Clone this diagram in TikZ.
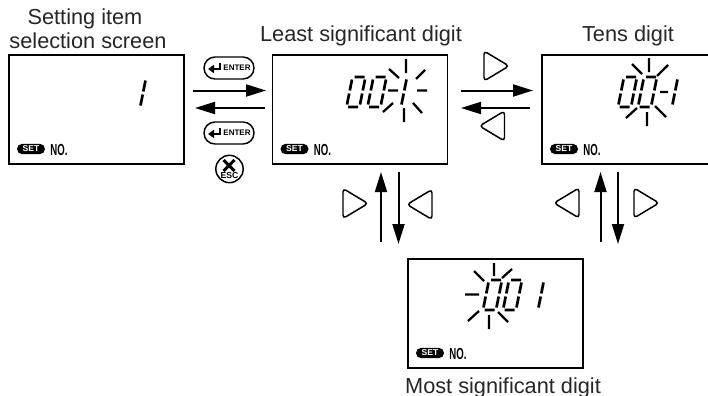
\documentclass[tikz,border=0pt]{standalone}
\usepackage{fontspec}
\setmainfont{Liberation Sans}
\usetikzlibrary{arrows.meta, shapes.misc}

\tikzset{
	x=0.75pt, y=-0.75pt,
	lcd/.style={draw, line width=1.3pt, minimum width=131.25pt, minimum height=81.75pt, inner sep=0pt, outer sep=0pt},
	caption/.style={anchor=base, inner sep=0pt, text=black!85, font=\fontsize{16.3}{18}\selectfont},
	flow/.style={line width=1.5pt, -{Triangle[length=15pt,width=9pt]}},
	softkey/.style={line width=1.1pt, rounded corners=2.6pt},
	segment/.style={line width=2pt},
	burst/.style={line width=1.7pt},
	pics/zero/.style={code={
		\draw[segment, xslant=.2] (2,0) -- (12,0) (13,2.5) -- (13,13.5) (13,16.5) -- (13,27.5) (1.5,30) -- (11.5,30) (0,16.5) -- (0,27.5) (0,2.5) -- (0,13.5);
	}},
	pics/one/.style={code={
		\draw[segment, xslant=.2] (13,2.5) -- (13,13.5) (13,16.5) -- (13,27.5);
	}},
	pics/setno/.style={code={
		\node[fill=black, text=white, rounded rectangle, inner sep=0pt, minimum width=21pt, minimum height=7.8pt, font=\fontsize{6.4}{7}\bfseries\selectfont] (-set) at (22,-15) {SET};
		\node[inner sep=0pt, xscale=.6, transform shape, font=\fontsize{12}{13}\bfseries\selectfont] (-no) at (50,-14) {NO.};
	}},
	pics/enterkey/.style={code={
		\node[draw, line width=1.1pt, rounded rectangle, inner sep=0pt, minimum width=37.5pt, minimum height=16.5pt] (-key) at (0,0) {};
		\node[inner sep=0pt, font=\fontsize{6}{7}\bfseries\selectfont] (-txt) at (8,0) {ENTER};
		\draw[line width=1.5pt, -{Triangle[length=4.5pt,width=6pt]}] (-9,-5) -- (-9,1) -- (-21,1);
	}},
	pics/rightkey/.style={code={
		\draw[softkey] (-11,-15) -- (14,0) -- (-11,15) -- cycle;
	}},
	pics/leftkey/.style={code={
		\draw[softkey] (11,-15) -- (-14,0) -- (11,15) -- cycle;
	}},
}

\begin{document}
\begin{tikzpicture}
			\path[use as bounding box, clip] (0,0) rectangle (708,396);

			% Pantallas
			\node[lcd] (box1) at (96.5,109.5) {};
			\node[lcd] (box2) at (360,109.5) {};
			\node[lcd] (box3) at (629.5,109.5) {};
			\node[lcd] (box4) at (495.5,313.5) {};
			\pic (set1) at (box1.south west) {setno};
			\pic (set2) at (box2.south west) {setno};
			\pic (set3) at (box3.south west) {setno};
			\pic (set4) at (box4.south west) {setno};

			% Etiquetas
			\node[caption] (title1a) at (85,24) {Setting item};
			\node[caption] (title1b) at (88,48) {selection screen};
			\node[caption] (title2) at (361,41) {Least significant digit};
			\node[caption] (title3) at (628,41) {Tens digit};
			\node[caption] (title4) at (503,393) {Most significant digit};

			% Digitos
			\pic at (133,78) {one};
			\pic at (352.5,77) {zero};
			\pic at (373.5,77) {zero};
			\pic at (394,77) {one};
			\pic at (624,77) {zero};
			\pic at (644,77) {zero};
			\pic at (665,77) {one};
			\pic at (489,280) {zero};
			\pic at (509,280) {zero};
			\pic at (531,280) {one};

			% Destellos
			\draw[burst] (406,59) -- (406,73) (404,108) -- (404,122) (388,90.5) -- (398,90.5) (417,90.5) -- (427,90.5)
				(416,79) -- (425,70) (399,78) -- (389,69) (393,103) -- (383,112) (413,103) -- (422,113);
			\draw[burst] (649,58) -- (649,72) (647,112) -- (647,126) (660,92) -- (668,92)
				(632,64) -- (642,74) (668,65) -- (657,76) (637,108) -- (626,118) (655,106) -- (666,117);
			\draw[burst] (494,263) -- (494,276) (489,315) -- (489,329) (465,294.5) -- (479,294.5)
				(474,271) -- (484,281) (512,269) -- (502,278) (479,311) -- (468,321) (498,312) -- (508,322);

			% Flechas
			\draw[flow] ([shift={(9,-19)}]box1.east) -- ([shift={(-6.5,-19)}]box2.west);
			\draw[flow] ([shift={(-8,-1.5)}]box2.west) -- ([shift={(11,-1.5)}]box1.east);
			\draw[flow] ([shift={(13,-19)}]box2.east) -- ([shift={(-9,-19)}]box3.west);
			\draw[flow] ([shift={(-12,-1.5)}]box3.west) -- ([shift={(13.5,-1.5)}]box2.east);
			\draw[flow] ([shift={(-114.5,-17)}]box4.north) -- ([shift={(21,8)}]box2.south);
			\draw[flow] ([shift={(38.5,7.5)}]box2.south) -- ([shift={(-97,-15)}]box4.north);
			\draw[flow] ([shift={(105,-17)}]box4.north) -- ([shift={(-29,8)}]box3.south);
			\draw[flow] ([shift={(-11.5,7.5)}]box3.south) -- ([shift={(122.5,-15)}]box4.north);

			% Teclas
			\pic (enter1) at (229,68) {enterkey};
			\pic (enter2) at (229,133) {enterkey};
			\node[draw, circle, line width=1.1pt, minimum size=20.5pt, inner sep=0pt] (esc) at (229.5,169) {};
			\draw[line width=2.2pt] (223.5,160) -- (234.5,171) (234.5,160) -- (223.5,171);
			\node[inner sep=0pt, font=\fontsize{6.5}{7}\bfseries\selectfont] (esctxt) at (229.5,175.5) {ESC};
			\pic at (495,66) {rightkey};
			\pic at (493.5,126) {leftkey};
			\pic at (354,203.5) {rightkey};
			\pic at (421,204.5) {leftkey};
			\pic at (568,203) {leftkey};
			\pic at (645,203) {rightkey};

\end{tikzpicture}
\end{document}
